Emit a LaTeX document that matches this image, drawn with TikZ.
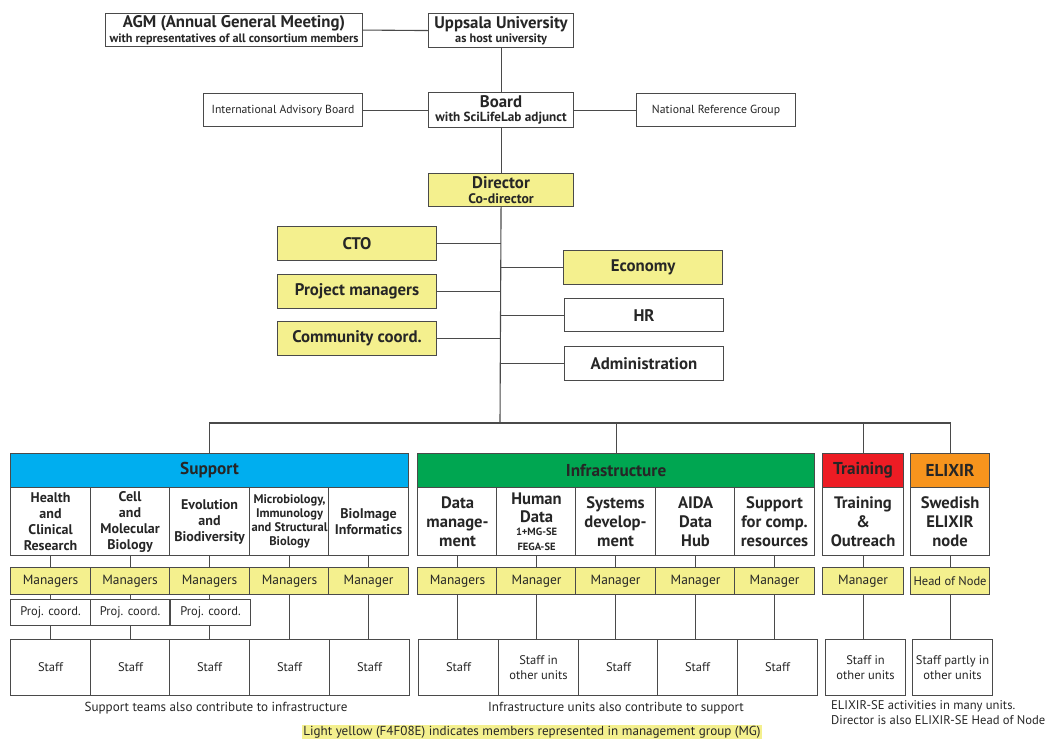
\documentclass[tikz,border=0pt]{standalone}
\usepackage{fontspec}
\setmainfont{PT Sans}
\definecolor{myyel}{HTML}{F4F08E}
\definecolor{lineg}{HTML}{4A4A4A}
\definecolor{supblue}{HTML}{00AEEF}
\definecolor{infgreen}{HTML}{00A651}
\definecolor{trred}{HTML}{ED1C24}
\definecolor{elorange}{HTML}{F7941D}
\tikzset{
 base/.style={draw=lineg, line width=1.1pt, inner sep=1pt, align=center, anchor=north west, text=black!85},
 yel/.style={base, fill=myyel},
 wht/.style={base, fill=white},
 conn/.style={draw=lineg, line width=1.1pt},
 two/.style={font=\fontsize{12}{14.5}\selectfont},
 big/.style={font=\fontsize{16.8}{18}\selectfont\bfseries},
 hdr/.style={font=\fontsize{17.2}{18}\selectfont\bfseries},
 unit/.style={font=\fontsize{14}{16}\selectfont\bfseries},
 unitb/.style={font=\fontsize{16.6}{19}\selectfont\bfseries},
 reg/.style={font=\fontsize{12.5}{15}\selectfont},
 mgr/.style={font=\fontsize{13.4}{15}\selectfont},
 note/.style={font=\fontsize{13.1}{15.5}\selectfont, text=black!85},
}
\newcommand{\ttl}[1]{{\fontsize{16.8}{17}\selectfont\bfseries #1}}
\newcommand{\sbt}[2]{{\fontsize{#1}{13}\selectfont\bfseries #2}}
\begin{document}
\begin{tikzpicture}[x=1pt,y=-1pt]
\useasboundingbox (0,0) rectangle (1049,740);
% top
\node[wht, two, minimum width=257pt, minimum height=33pt] (agm) at (105,13) {\ttl{AGM (Annual General Meeting)}\\\sbt{12.2}{with representatives of all consortium members}};
\node[wht, two, minimum width=145pt, minimum height=34pt] (uu) at (428,13) {\ttl{Uppsala University}\\\sbt{12.3}{as host university}};
\node[wht, two, minimum width=145pt, minimum height=35pt] (board) at (428,92) {\ttl{Board}\\\sbt{13.2}{with SciLifeLab adjunct}};
\node[wht, minimum width=159pt, minimum height=33pt, font=\fontsize{11.7}{14}\selectfont] (iab) at (203,93) {International Advisory Board};
\node[wht, minimum width=159pt, minimum height=33pt, font=\fontsize{11.7}{14}\selectfont] (nrg) at (636,93) {National Reference Group};
\node[yel, two, minimum width=145pt, minimum height=33pt] (dir) at (428,173) {\ttl{Director}\\\sbt{13.8}{Co-director}};
\node[yel, minimum width=159pt, minimum height=34pt, big] (cto) at (277,226) {CTO};
\node[yel, minimum width=159pt, minimum height=34pt, big] (pm) at (277,274) {Project managers};
\node[yel, minimum width=159pt, minimum height=34pt, big] (cc) at (277,321) {Community coord.};
\node[yel, minimum width=159pt, minimum height=34pt, big] (eco) at (563,250) {Economy};
\node[wht, minimum width=159pt, minimum height=33pt, big] (hr) at (564,298) {HR};
\node[wht, minimum width=159pt, minimum height=34pt, big] (adm) at (564,346) {Administration};
\coordinate (bar) at (500,423);
\draw[conn] (agm.east) -- (uu.west);
\draw[conn] (uu.south) -- (board.north);
\draw[conn] (iab.east) -- (board.west);
\draw[conn] (board.east) -- (nrg.west);
\draw[conn] (board.south) -- (dir.north);
\draw[conn] (dir.south) -- (bar);
\foreach \n in {cto,pm,cc}{\draw[conn] (\n.east) -- (\n.east -| dir.south);}
\foreach \n in {eco,hr,adm}{\draw[conn] (\n.west) -- (\n.west -| dir.south);}
% headers
\node[base, fill=supblue, minimum width=398pt, minimum height=34pt, hdr] (sup) at (10,453) {Support};
\node[base, fill=infgreen, minimum width=397pt, minimum height=34pt, hdr] (inf) at (417,453) {Infrastructure};
\node[base, fill=trred, minimum width=81pt, minimum height=34pt, hdr] (tr) at (822,453) {Training};
\node[base, fill=elorange, minimum width=79pt, minimum height=34pt, hdr] (eli) at (910,453) {ELIXIR};
\draw[conn] (sup.north) -- (sup.north |- bar) -- (eli.north |- bar) -- (eli.north);
\draw[conn] (inf.north) -- (inf.north |- bar);
\draw[conn] (tr.north) -- (tr.north |- bar);
% support units
\node[wht, minimum width=80pt, minimum height=68pt, unit] (s1) at (10,487) {Health\\and\\Clinical\\Research};
\node[wht, minimum width=79pt, minimum height=68pt, unit] (s2) at (90,487) {Cell\\and\\Molecular\\Biology};
\node[wht, minimum width=80pt, minimum height=68pt, unit] (s3) at (169,487) {Evolution\\and\\Biodiversity};
\node[wht, minimum width=80pt, minimum height=68pt, font=\fontsize{12.5}{14}\selectfont\bfseries] (s4) at (249,487) {Microbiology,\\Immunology\\and Structural\\Biology};
\node[wht, minimum width=80pt, minimum height=68pt, unit] (s5) at (328,487) {BioImage\\Informatics};
\node[yel, minimum width=80pt, minimum height=27pt, mgr] (sm1) at (10,567) {Managers};
\node[yel, minimum width=79pt, minimum height=27pt, mgr] (sm2) at (90,567) {Managers};
\node[yel, minimum width=80pt, minimum height=27pt, mgr] (sm3) at (169,567) {Managers};
\node[yel, minimum width=80pt, minimum height=27pt, mgr] (sm4) at (249,567) {Managers};
\node[yel, minimum width=80pt, minimum height=27pt, mgr] (sm5) at (328,567) {Manager};
\node[wht, minimum width=80pt, minimum height=26pt, reg] (pc1) at (10,599) {Proj. coord.};
\node[wht, minimum width=79pt, minimum height=26pt, reg] (pc2) at (90,599) {Proj. coord.};
\node[wht, minimum width=80pt, minimum height=26pt, reg] (pc3) at (170,599) {Proj. coord.};
\node[wht, minimum width=80pt, minimum height=56pt, reg] (ss1) at (10,639) {Staff};
\node[wht, minimum width=80pt, minimum height=56pt, reg] (ss2) at (90,639) {Staff};
\node[wht, minimum width=80pt, minimum height=56pt, reg] (ss3) at (169,639) {Staff};
\node[wht, minimum width=80pt, minimum height=56pt, reg] (ss4) at (249,639) {Staff};
\node[wht, minimum width=80pt, minimum height=56pt, reg] (ss5) at (329,639) {Staff};
\foreach \i in {1,2,3}{
 \draw[conn] (s\i.south) -- (sm\i.north);
 \draw[conn] (sm\i.south) -- (sm\i.south |- pc\i.north);
 \draw[conn] (sm\i.south |- pc\i.south) -- (sm\i.south |- ss\i.north);
}
\foreach \i in {4,5}{
 \draw[conn] (s\i.south) -- (sm\i.north);
 \draw[conn] (sm\i.south) -- (sm\i.south |- ss\i.north);
}
% infrastructure units
\node[wht, minimum width=80pt, minimum height=68pt, unitb] (i1) at (417,487) {Data\\manage-\\ment};
\node[wht, minimum width=80pt, minimum height=68pt, font=\fontsize{16.6}{18}\selectfont\bfseries] (i2) at (496,487) {Human\\Data\\[-5pt]{\fontsize{10.5}{11}\selectfont 1+MG-SE}\\[-3pt]{\fontsize{10.5}{11}\selectfont FEGA-SE}};
\node[wht, minimum width=80pt, minimum height=68pt, unitb] (i3) at (575,487) {Systems\\develop-\\ment};
\node[wht, minimum width=80pt, minimum height=68pt, unitb] (i4) at (655,487) {AIDA\\Data\\Hub};
\node[wht, minimum width=80pt, minimum height=68pt, unitb] (i5) at (734,487) {Support\\for comp.\\resources};
\node[yel, minimum width=80pt, minimum height=27pt, mgr] (im1) at (417,567) {Managers};
\node[yel, minimum width=80pt, minimum height=27pt, mgr] (im2) at (496,567) {Manager};
\node[yel, minimum width=80pt, minimum height=27pt, mgr] (im3) at (575,567) {Manager};
\node[yel, minimum width=80pt, minimum height=27pt, mgr] (im4) at (655,567) {Manager};
\node[yel, minimum width=80pt, minimum height=27pt, mgr] (im5) at (734,567) {Manager};
\node[wht, minimum width=80pt, minimum height=56pt, reg] (is1) at (418,639) {Staff};
\node[wht, minimum width=80pt, minimum height=56pt, reg] (is2) at (498,639) {Staff in\\other units};
\node[wht, minimum width=80pt, minimum height=56pt, reg] (is3) at (578,639) {Staff};
\node[wht, minimum width=80pt, minimum height=56pt, reg] (is4) at (657,639) {Staff};
\node[wht, minimum width=80pt, minimum height=56pt, reg] (is5) at (737,639) {Staff};
\foreach \i in {1,...,5}{
 \draw[conn] (i\i.south) -- (im\i.north);
 \draw[conn] (im\i.south) -- (im\i.south |- is\i.north);
}
% training & elixir
\node[wht, minimum width=81pt, minimum height=68pt, unitb] (t1) at (822,487) {Training\\\&\\Outreach};
\node[wht, minimum width=79pt, minimum height=68pt, unitb] (e1) at (910,487) {Swedish\\ELIXIR\\node};
\node[yel, minimum width=81pt, minimum height=27pt, mgr] (tm) at (822,567) {Manager};
\node[yel, minimum width=79pt, minimum height=27pt, reg] (em) at (910,567) {Head of Node};
\node[wht, minimum width=80pt, minimum height=56pt, reg] (ts) at (825,639) {Staff in\\other units};
\node[wht, minimum width=80pt, minimum height=56pt, reg] (es) at (912,639) {Staff partly in\\other units};
\draw[conn] (t1.south) -- (tm.north);
\draw[conn] (tm.south) -- (tm.south |- ts.north);
\draw[conn] (e1.south) -- (em.north);
\draw[conn] (em.south) -- (em.south |- es.north);
% notes
\node[note] (n1) at (216,708) {Support teams also contribute to infrastructure};
\node[note] (n2) at (616,708) {Infrastructure units also contribute to support};
\node[note, font=\fontsize{12.6}{15.5}\selectfont, align=left, anchor=north west, inner sep=0pt] (n3) at (831,700) {ELIXIR-SE activities in many units.\\Director is also ELIXIR-SE Head of Node};
\node[note, fill=myyel, inner sep=1pt] (n4) at (532,732) {Light yellow (F4F08E) indicates members represented in management group (MG)};
\end{tikzpicture}
\end{document}
